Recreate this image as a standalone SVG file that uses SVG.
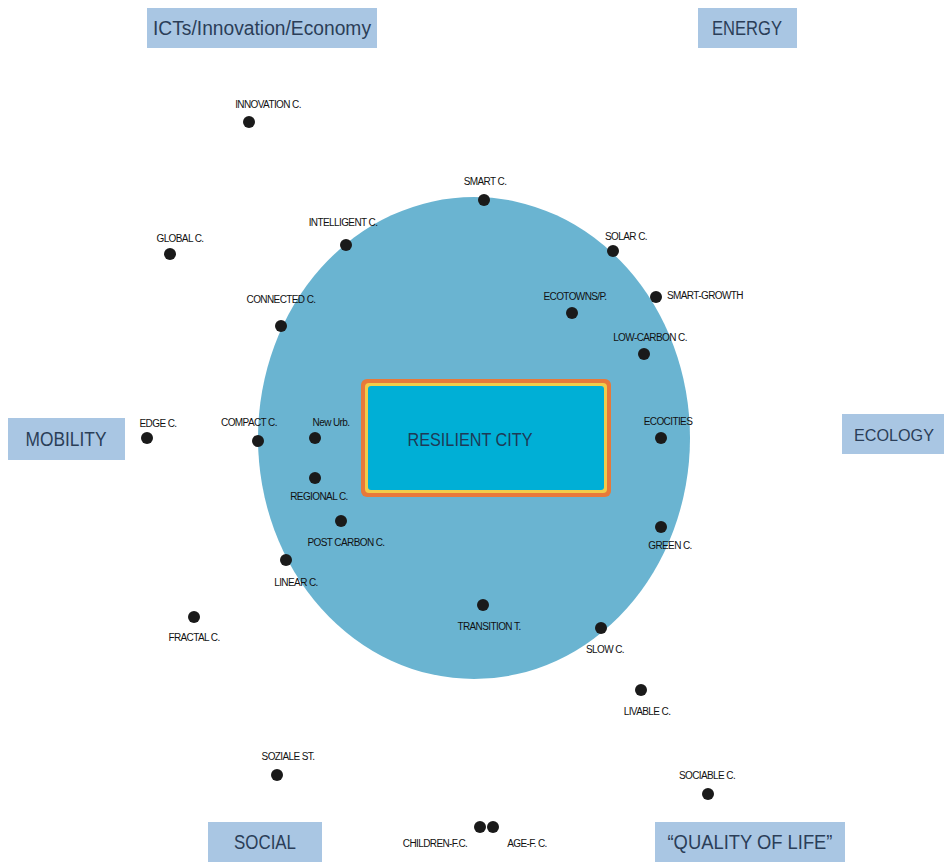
<svg xmlns="http://www.w3.org/2000/svg" width="949" height="862" viewBox="0 0 949 862">
<style>
.box{fill:#a9c6e3}
.bt{font-family:"Liberation Sans",Arial,sans-serif;font-size:20px;fill:#2b3e58;text-anchor:middle}
.dot{fill:#1a1a1a}
.lb{font-family:"Liberation Sans",Arial,sans-serif;font-size:10px;fill:#111;text-anchor:middle;letter-spacing:-0.6px}
</style>
<rect width="949" height="862" fill="#ffffff"/>
<g id="ellipse"><ellipse cx="474" cy="438" rx="216" ry="241" fill="#6ab4d1"/></g>
<g id="resilient">
<rect x="361" y="379" width="250" height="118" rx="6" fill="#e8793a"/>
<rect x="365" y="383" width="242" height="110" rx="4" fill="#f2cc4a"/>
<rect x="368" y="386" width="236" height="104" rx="3" fill="#00afd6"/>
<text x="470" y="446" class="bt" style="font-size:18px;fill:#1e3a56" textLength="125" lengthAdjust="spacingAndGlyphs">RESILIENT CITY</text>
</g>
<g id="cat-ict"><rect class="box" x="147" y="8" width="230" height="40"/><text class="bt" x="262" y="35" textLength="218" lengthAdjust="spacingAndGlyphs">ICTs/Innovation/Economy</text></g>
<g id="cat-energy"><rect class="box" x="698" y="8" width="99" height="40"/><text class="bt" x="747" y="35" textLength="70" lengthAdjust="spacingAndGlyphs">ENERGY</text></g>
<g id="cat-mobility"><rect class="box" x="8" y="418" width="117" height="42"/><text class="bt" x="66" y="446" textLength="81" lengthAdjust="spacingAndGlyphs">MOBILITY</text></g>
<g id="cat-ecology"><rect class="box" x="842" y="414" width="102" height="40"/><text class="bt" x="894" y="441" style="font-size:17px" textLength="80" lengthAdjust="spacingAndGlyphs">ECOLOGY</text></g>
<g id="cat-social"><rect class="box" x="208" y="822" width="114" height="40"/><text class="bt" x="265" y="849" textLength="62" lengthAdjust="spacingAndGlyphs">SOCIAL</text></g>
<g id="cat-qol"><rect class="box" x="655" y="822" width="190" height="40"/><text class="bt" x="750" y="849" textLength="165" lengthAdjust="spacingAndGlyphs">“QUALITY OF LIFE”</text></g>
<g id="n-innovation"><circle class="dot" cx="249" cy="122" r="6"/><text class="lb" x="268" y="108">INNOVATION C.</text></g>
<g id="n-smart"><circle class="dot" cx="484" cy="200" r="6"/><text class="lb" x="485" y="185">SMART C.</text></g>
<g id="n-global"><circle class="dot" cx="170" cy="254" r="6"/><text class="lb" x="180" y="242">GLOBAL C.</text></g>
<g id="n-intelligent"><circle class="dot" cx="346" cy="245" r="6"/><text class="lb" x="343" y="226">INTELLIGENT C.</text></g>
<g id="n-solar"><circle class="dot" cx="613" cy="251" r="6"/><text class="lb" x="626" y="240">SOLAR C.</text></g>
<g id="n-smartgrowth"><circle class="dot" cx="656" cy="297" r="6"/><text class="lb" x="667" y="299" style="text-anchor:start">SMART-GROWTH</text></g>
<g id="n-ecotowns"><circle class="dot" cx="572" cy="313" r="6"/><text class="lb" x="575" y="300">ECOTOWNS/P.</text></g>
<g id="n-connected"><circle class="dot" cx="281" cy="326" r="6"/><text class="lb" x="281" y="303">CONNECTED C.</text></g>
<g id="n-lowcarbon"><circle class="dot" cx="644" cy="354" r="6"/><text class="lb" x="650" y="341">LOW-CARBON C.</text></g>
<g id="n-edge"><circle class="dot" cx="147" cy="438" r="6"/><text class="lb" x="158" y="427">EDGE C.</text></g>
<g id="n-compact"><circle class="dot" cx="258" cy="441" r="6"/><text class="lb" x="249" y="426">COMPACT C.</text></g>
<g id="n-newurb"><circle class="dot" cx="315" cy="438" r="6"/><text class="lb" x="331" y="426">New Urb.</text></g>
<g id="n-ecocities"><circle class="dot" cx="661" cy="438" r="6"/><text class="lb" x="668" y="425">ECOCITIES</text></g>
<g id="n-regional"><circle class="dot" cx="315" cy="478" r="6"/><text class="lb" x="319" y="500">REGIONAL C.</text></g>
<g id="n-postcarbon"><circle class="dot" cx="341" cy="521" r="6"/><text class="lb" x="346" y="546">POST CARBON C.</text></g>
<g id="n-green"><circle class="dot" cx="661" cy="527" r="6"/><text class="lb" x="670" y="549">GREEN C.</text></g>
<g id="n-linear"><circle class="dot" cx="286" cy="560" r="6"/><text class="lb" x="296" y="586">LINEAR C.</text></g>
<g id="n-fractal"><circle class="dot" cx="194" cy="617" r="6"/><text class="lb" x="194" y="641">FRACTAL C.</text></g>
<g id="n-transition"><circle class="dot" cx="483" cy="605" r="6"/><text class="lb" x="489" y="630">TRANSITION T.</text></g>
<g id="n-slow"><circle class="dot" cx="601" cy="628" r="6"/><text class="lb" x="605" y="653">SLOW C.</text></g>
<g id="n-livable"><circle class="dot" cx="641" cy="690" r="6"/><text class="lb" x="647" y="715">LIVABLE C.</text></g>
<g id="n-soziale"><circle class="dot" cx="277" cy="775" r="6"/><text class="lb" x="288" y="760">SOZIALE ST.</text></g>
<g id="n-sociable"><circle class="dot" cx="708" cy="794" r="6"/><text class="lb" x="707" y="779">SOCIABLE C.</text></g>
<g id="n-children"><circle class="dot" cx="480" cy="827" r="6"/><text class="lb" x="435" y="847">CHILDREN-F.C.</text></g>
<g id="n-age"><circle class="dot" cx="493" cy="827" r="6"/><text class="lb" x="527" y="847">AGE-F. C.</text></g>
<g id="connectors"></g>
</svg>
